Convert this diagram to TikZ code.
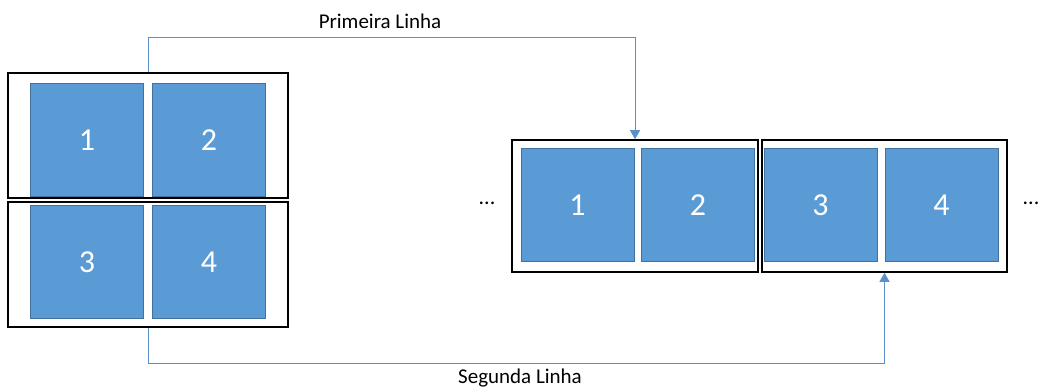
\documentclass[tikz,border=0pt]{standalone}
\usepackage{fontspec}
\setmainfont{Carlito}
\usetikzlibrary{arrows.meta}
\definecolor{tilefill}{HTML}{5B9BD5}
\definecolor{tileedge}{HTML}{41719C}
\definecolor{linkblue}{HTML}{5B8FC9}
\begin{document}
\begin{tikzpicture}[x=1pt,y=-1pt,
  tile/.style={draw=tileedge, line width=1pt, fill=tilefill, minimum width=113pt, minimum height=113pt, inner sep=0pt, text=white, font=\fontsize{32}{32}\selectfont},
  rowbox/.style={draw=black, line width=1.6pt, inner sep=0pt},
  link/.style={draw=linkblue, line width=1pt, -{Triangle[width=10pt,length=9pt]}},
  label/.style={font=\fontsize{21}{21}\selectfont, inner sep=0pt},
  dots/.style={font=\fontsize{22}{22}\selectfont, inner sep=0pt}]
\useasboundingbox (0,0) rectangle (1042,388);

% left: two rows stacked
\node[rowbox, minimum width=280pt, minimum height=125pt] (l1) at (148,135.5) {};
\node[rowbox, minimum width=280pt, minimum height=125pt] (l2) at (148,264.5) {};
\node[tile] (a1) at (87,140) {1};
\node[tile] (a2) at (209,140) {2};
\node[tile] (a3) at (87,262) {3};
\node[tile] (a4) at (209,262) {4};

% right: rows laid side by side
\node[rowbox, minimum width=246pt, minimum height=132pt] (r1) at (635,206) {};
\node[rowbox, minimum width=245pt, minimum height=132pt] (r2) at (884.5,206) {};
\node[tile] (b1) at (577.5,205) {1};
\node[tile] (b2) at (698,205) {2};
\node[tile] (b3) at (820.5,205) {3};
\node[tile] (b4) at (941.5,205) {4};

\node[dots] (dl) at (487,203) {...};
\node[dots] (dr) at (1031,203) {...};

% connectors
\draw[link] (l1.north) -- ++(0,-35) -| (r1.north);
\draw[link] (l2.south) -- ++(0,36) -| (r2.south);

\node[label] (t1) at (380,21) {Primeira Linha};
\node[label] (t2) at (520,378) {Segunda Linha};
\end{tikzpicture}
\end{document}
